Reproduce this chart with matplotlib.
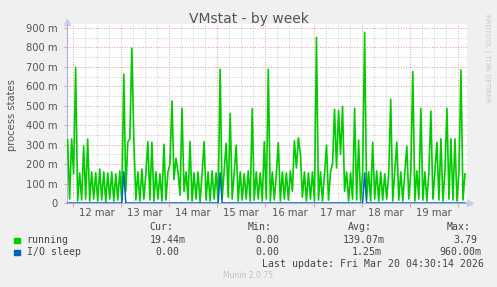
import matplotlib
matplotlib.use("Agg")
import matplotlib.pyplot as plt
from matplotlib.patches import Rectangle
import matplotlib.transforms as mtransforms

# Data: hourly samples (values in milli)
running = [
    325, 20, 330, 150, 698, 10, 155, 15, 293, 20,
    329, 10, 160, 20, 155, 10, 175, 15, 160, 5,
    155, 20, 160, 10, 150, 15, 165, 10, 663, 60,
    314, 330, 796, 325, 15, 160, 10, 175, 20, 150,
    316, 15, 313, 10, 160, 20, 150, 10, 302, 15,
    160, 200, 525, 120, 230, 160, 40, 487, 60, 160,
    15, 316, 10, 155, 20, 160, 5, 150, 316, 15,
    160, 10, 165, 20, 155, 10, 688, 20, 160, 307,
    30, 461, 20, 155, 298, 10, 160, 15, 150, 20,
    165, 10, 487, 15, 160, 20, 155, 10, 316, 20,
    688, 10, 160, 15, 150, 310, 10, 160, 20, 155,
    15, 165, 60, 320, 180, 335, 250, 30, 160, 10,
    155, 20, 160, 10, 852, 15, 160, 10, 150, 298,
    15, 160, 200, 482, 180, 476, 250, 496, 60, 160,
    10, 155, 20, 487, 15, 324, 10, 160, 878, 20,
    160, 10, 313, 20, 165, 10, 160, 15, 150, 20,
    155, 533, 10, 160, 313, 15, 160, 10, 155, 293,
    20, 160, 676, 10, 165, 20, 487, 15, 160, 10,
    155, 473, 20, 160, 313, 15, 330, 10, 160, 487,
    20, 330, 15, 330, 10, 160, 684, 15, 150,
]
io_sleep = [0] * len(running)
io_sleep[28] = 160
io_sleep[76] = 155
io_sleep[148] = 155

day_labels = ["12 mar", "13 mar", "14 mar", "15 mar", "16 mar", "17 mar", "18 mar", "19 mar"]
y_ticks = [0, 100, 200, 300, 400, 500, 600, 700, 800, 900]
y_labels = ["0", "100 m", "200 m", "300 m", "400 m", "500 m", "600 m", "700 m", "800 m", "900 m"]

first_midnight = 2.83  # hours from graph start to Mar 12 00:00
hours = [i + 0.3 for i in range(len(running))]

W, H = 497, 287
fig = plt.figure(figsize=(W / 100, H / 100), dpi=100, facecolor="#F0F0F0")
ax = fig.add_axes([67 / W, (H - 203) / H, 400 / W, 179 / H])
ax.set_facecolor("white")

# grid like rrdtool
red = "#e6a3a3"
grey = "#cfcfcf"
for k in range(0, 34):
    t = first_midnight + 6 * k
    if t > 199.3:
        break
    c = red if k % 4 == 0 else grey
    ax.axvline(t, color=c, lw=0.75, ls=(0, (1, 1.5)), zorder=1)
for v in range(50, 951, 50):
    c = red if v % 100 == 0 else grey
    ax.axhline(v, color=c, lw=0.75, ls=(0, (1, 1.5)), zorder=1)

ax.plot(hours, running, color="#00CC00", lw=1.2, zorder=3)
ax.plot(hours, io_sleep, color="#0066B3", lw=1.1, zorder=4)

ax.set_xlim(0, 199.3)
ax.set_ylim(0, 920.7)

# axes
for s in ["top", "right"]:
    ax.spines[s].set_visible(False)
for s in ["left", "bottom"]:
    ax.spines[s].set_color("#aab2e0")
    ax.spines[s].set_linewidth(0.8)
ax.plot([0], [1.01], marker="^", color="#c8cef2", ms=5, transform=ax.transAxes, clip_on=False)
ax.plot([1.008], [0], marker=">", color="#c8cef2", ms=5, transform=ax.transAxes, clip_on=False)

midnights = [first_midnight + 24 * k for k in range(9)]
ax.set_xticks(midnights)
ax.set_xticklabels([])
ax.tick_params(axis="x", colors="#e6a3a3", length=3, width=0.8)
ax.set_yticks(y_ticks)
ax.set_yticklabels(y_labels)
ax.tick_params(axis="y", colors="#e6a3a3", length=2, width=0.8, pad=5, labelcolor="#555555", labelsize=7.2)

trans = mtransforms.blended_transform_factory(ax.transData, ax.transAxes)
for k, lab in enumerate(day_labels):
    ax.text(first_midnight + 12 + 24 * k, -0.058, lab, transform=trans, ha="center", va="center",
            fontsize=7.2, color="#555555")

# titles
fig.text(248.5 / W, 1 - 19 / H, "VMstat - by week", ha="center", va="center", fontsize=10, color="#555555")
fig.text(12 / W, 1 - 115 / H, "process states", rotation=90, ha="center", va="center", fontsize=7.2,
         color="#555555")
fig.text(487 / W, 1 - 14 / H, "RRDTOOL / TOBI OETIKER", rotation=-90, ha="center", va="top", fontsize=5,
         color="#c8c8c8")

# legend (monospace like munin)
mono = dict(family="DejaVu Sans Mono", fontsize=7.1, color="#444444", va="center", ha="left")


def ftext(x, y, s, **kw):
    d = dict(mono)
    d.update(kw)
    fig.text(x / W, 1 - y / H, s, **d)


ftext(149, 227, "Cur:")
ftext(248, 227, "Min:")
ftext(348, 227, "Avg:")
ftext(447, 227, "Max:")

fig.add_artist(Rectangle((14 / W, 1 - 243 / H), 5.5 / W, 5.5 / H, color="#00CC00", transform=fig.transFigure))
fig.add_artist(Rectangle((14 / W, 1 - 255 / H), 5.5 / W, 5.5 / H, color="#0066B3", transform=fig.transFigure))

ftext(26.7, 240, "running")
ftext(149.3, 240, "19.44m")
ftext(255, 240, "0.00")
ftext(342.7, 240, "139.07m")
ftext(453.3, 240, "3.79")

ftext(26.7, 252, "I/O sleep")
ftext(155.3, 252, "0.00")
ftext(255, 252, "0.00")
ftext(351.7, 252, "1.25m")
ftext(439.3, 252, "960.00m")

ftext(261.7, 264, "Last update: Fri Mar 20 04:30:14 2026")
fig.text(248 / W, 1 - 276 / H, "Munin 2.0.75", ha="center", va="center", fontsize=5.5, color="#c0c0c0")

fig.savefig("out.png", dpi=100, facecolor=fig.get_facecolor())
